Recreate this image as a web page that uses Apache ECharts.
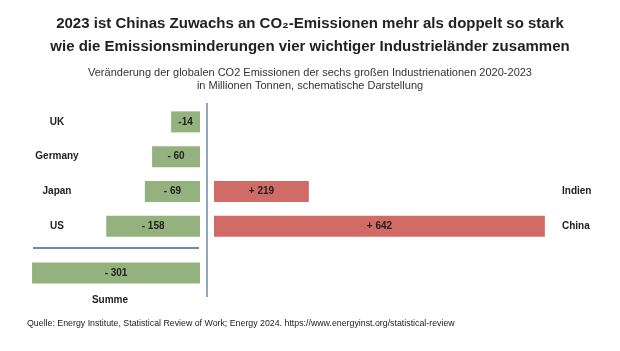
<!DOCTYPE html>
<html>
<head>
	<meta charset="utf-8">
	<title>CO2 Emissionen</title>
	<script src="https://cdn.jsdelivr.net/npm/echarts@6/dist/echarts.min.js"></script>
	<style>
		html, body { margin: 0; padding: 0; background: #fff; }
		#main { width: 620px; height: 351px; }
	</style>
</head>
<body>
	<div id="main"></div>
	<script>
		// data (Mio. t, 2020-2023)
		const leftCountries = ['UK', 'Germany', 'Japan', 'US'];
		const leftValues = [-14, -60, -69, -158];
		const leftLabels = ['-14', '- 60', '- 69', '- 158'];
		// schematic bar lengths as drawn in the original (not to scale)
		const leftLengths = [56, 93, 107, 182];

		const sumName = 'Summe';
		const sumValue = -301;
		const sumLabel = '- 301';
		const sumLength = 326;

		const rightCountries = ['', '', 'Indien', 'China'];
		const rightValues = [null, null, 219, 642];
		const rightLabels = ['', '', '+ 219', '+ 642'];
		const rightLengths = [null, null, 184, 642];

		const green = '#93b27e', red = '#d06b66', lineCol = '#6d8ca8';
		const font = '"Liberation Sans", Arial, sans-serif';

		const chart = echarts.init(document.getElementById('main'));

		const barLabel = {
			show: true, position: 'inside', color: '#222',
			fontFamily: font, fontWeight: 'bold', fontSize: 10,
			formatter: p => p.data.text
		};

		const toItems = (lengths, labels, values) =>
			lengths.map((v, i) => v == null ? null : { value: v, text: labels[i], actual: values[i] });

		const hiddenAxis = { show: false };

		const option = {
			animation: false,
			title: [
				{
					text: '2023 ist Chinas Zuwachs an CO₂-Emissionen mehr als doppelt so stark\nwie die Emissionsminderungen vier wichtiger Industrieländer zusammen',
					left: 'center', top: 7,
					textStyle: { fontFamily: font, fontWeight: 'bold', fontSize: 15, color: '#222', lineHeight: 23 }
				},
				{
					text: 'Veränderung der globalen CO2 Emissionen der sechs großen Industrienationen 2020-2023\nin Millionen Tonnen, schematische Darstellung',
					left: 'center', top: 61,
					textStyle: { fontFamily: font, fontWeight: 'normal', fontSize: 11, color: '#333', lineHeight: 13 }
				},
				{
					text: 'Quelle: Energy Institute, Statistical Review of Work; Energy 2024. https://www.energyinst.org/statistical-review',
					left: 22, top: 314,
					textStyle: { fontFamily: font, fontWeight: 'normal', fontSize: 8.8, color: '#222' }
				}
			],
			grid: [
				{ left: 30, right: 420, top: 104.5, height: 139 },
				{ left: 214, right: 71, top: 104.5, height: 139 },
				{ left: 30, right: 420, top: 255.5, height: 35 }
			],
			xAxis: [
				{ gridIndex: 0, type: 'value', min: 0, max: 330, inverse: true, ...hiddenAxis },
				{ gridIndex: 1, type: 'value', min: 0, max: 650, ...hiddenAxis },
				{
					gridIndex: 2, type: 'value', min: 0, max: 330, inverse: true,
					axisLine: { show: false }, axisTick: { show: false }, axisLabel: { show: false },
					splitLine: { show: false },
					name: sumName, nameLocation: 'middle', nameGap: 5,
					nameTextStyle: { fontFamily: font, fontWeight: 'bold', fontSize: 10, color: '#222', padding: [0, 10, 0, 0] }
				}
			],
			yAxis: [
				{
					gridIndex: 0, type: 'category', data: leftCountries, inverse: true,
					axisLine: { show: false }, axisTick: { show: false },
					axisLabel: { margin: -27, align: 'center', fontFamily: font, fontWeight: 'bold', fontSize: 10, color: '#222' }
				},
				{
					gridIndex: 1, type: 'category', data: rightCountries, inverse: true, position: 'right',
					axisLine: { show: false }, axisTick: { show: false },
					axisLabel: { margin: 13, align: 'left', fontFamily: font, fontWeight: 'bold', fontSize: 10, color: '#222', padding: [0, 0, 6, 0] }
				},
				{
					gridIndex: 2, type: 'category', data: [sumName], inverse: true,
					axisLine: { show: false }, axisTick: { show: false }, axisLabel: { show: false }
				}
			],
			series: [
				{
					type: 'bar', xAxisIndex: 0, yAxisIndex: 0, barWidth: 21,
					itemStyle: { color: green }, label: barLabel,
					data: toItems(leftLengths, leftLabels, leftValues)
				},
				{
					type: 'bar', xAxisIndex: 1, yAxisIndex: 1, barWidth: 21,
					itemStyle: { color: red }, label: barLabel,
					data: toItems(rightLengths, rightLabels, rightValues)
				},
				{
					type: 'bar', xAxisIndex: 2, yAxisIndex: 2, barWidth: 21,
					itemStyle: { color: green }, label: barLabel,
					data: toItems([sumLength], [sumLabel], [sumValue])
				}
			],
			graphic: [
				{ type: 'line', shape: { x1: 207, y1: 103, x2: 207, y2: 297 }, style: { stroke: lineCol, lineWidth: 1.5 } },
				{ type: 'line', shape: { x1: 33, y1: 248, x2: 199, y2: 248 }, style: { stroke: lineCol, lineWidth: 2 } }
			]
		};

		chart.setOption(option);
	</script>
</body>
</html>
